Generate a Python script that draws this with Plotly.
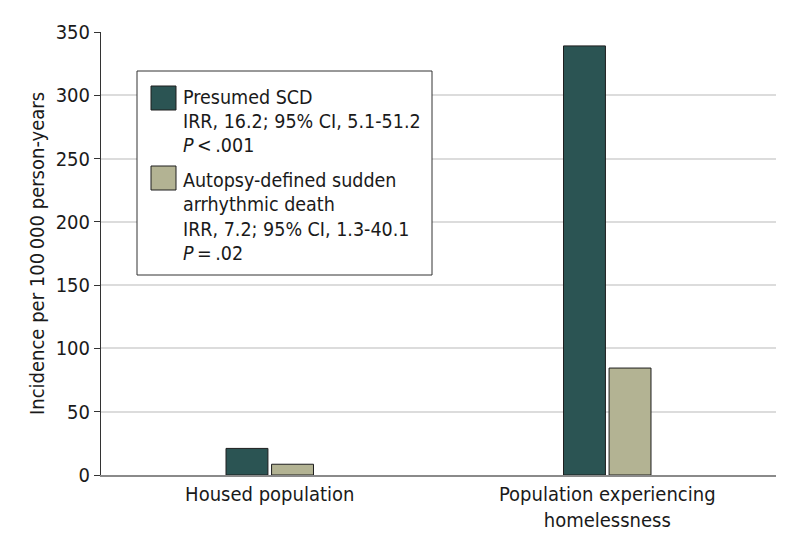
import plotly.graph_objects as go

categories = ["Housed population", "Population experiencing<br>homelessness"]
scd_values = [21, 339]
autopsy_values = [8.5, 84.5]
series_names = ["Presumed SCD", "Autopsy-defined sudden arrhythmic death"]
y_ticks = [0, 50, 100, 150, 200, 250, 300, 350]

FONT = "Liberation Sans Narrow, DejaVu Sans Condensed, Arial Narrow, sans-serif"
C1 = "#2b5453"
C2 = "#b3b393"

fig = go.Figure()
fig.add_trace(go.Bar(x=categories, y=scd_values, name=series_names[0],
                     marker=dict(color=C1, line=dict(color="#1e1e1e", width=1)),
                     showlegend=False))
fig.add_trace(go.Bar(x=categories, y=autopsy_values, name=series_names[1],
                     marker=dict(color=C2, line=dict(color="#1e1e1e", width=1)),
                     showlegend=False))

OFF = 8  # page body margin
W, H = 794 - OFF, 549 - OFF
ml, mr, mt, mb = 101 - OFF, 18, 32 - OFF, 74
pw, ph = W - ml - mr, H - mt - mb

def px(x):
    return (x - OFF - ml) / pw

def py(y):
    return 1 - (y - OFF - mt) / ph

shapes = []
shapes.append(dict(type="rect", xref="paper", yref="paper",
                   x0=px(137), x1=px(432), y0=py(275), y1=py(71),
                   line=dict(color="#333333", width=1), fillcolor="white", layer="above"))
shapes.append(dict(type="rect", xref="paper", yref="paper",
                   x0=px(151), x1=px(176), y0=py(110), y1=py(86),
                   line=dict(color="#1e1e1e", width=1), fillcolor=C1, layer="above"))
shapes.append(dict(type="rect", xref="paper", yref="paper",
                   x0=px(151), x1=px(176), y0=py(190), y1=py(166),
                   line=dict(color="#1e1e1e", width=1), fillcolor=C2, layer="above"))

annotations = []
leg1 = ["Presumed SCD", "IRR, 16.2; 95% CI, 5.1-51.2", "<i>P</i>\u2009<\u2009.001"]
leg2 = ["Autopsy-defined sudden", "arrhythmic death", "IRR, 7.2; 95% CI, 1.3-40.1", "<i>P</i>\u2009=\u2009.02"]
ys1 = [97, 121, 145]
ys2 = [180, 204, 229, 253]
for txt, yy in list(zip(leg1, ys1)) + list(zip(leg2, ys2)):
    annotations.append(dict(text=txt, xref="paper", yref="paper", x=px(181), y=py(yy),
                            xanchor="left", yanchor="middle", showarrow=False,
                            font=dict(family=FONT, size=19.5, color="#1a1a1a")))

fig.update_layout(
    width=W, height=H,
    margin=dict(l=ml, r=mr, t=mt, b=mb),
    plot_bgcolor="white", paper_bgcolor="white",
    barmode="group", bargap=0.73, bargroupgap=0.08,
    font=dict(family=FONT, size=20, color="#1a1a1a"),
    shapes=shapes, annotations=annotations,
    xaxis=dict(showline=True, linecolor="#8a8a8a", linewidth=1.5, ticks="",
               tickfont=dict(size=20), showgrid=False, automargin=False),
    yaxis=dict(range=[0, 350], tickvals=y_ticks, showline=True, linecolor="#333333",
               linewidth=1, ticks="outside", ticklen=6, tickcolor="#333333",
               showgrid=True, gridcolor="#dcdcdc", gridwidth=1.5, zeroline=False,
               automargin=False,
               title=dict(text="Incidence per 100\u2009000 person-years", font=dict(size=20), standoff=5),
               tickfont=dict(size=20)),
)

fig.write_html("out.html")
